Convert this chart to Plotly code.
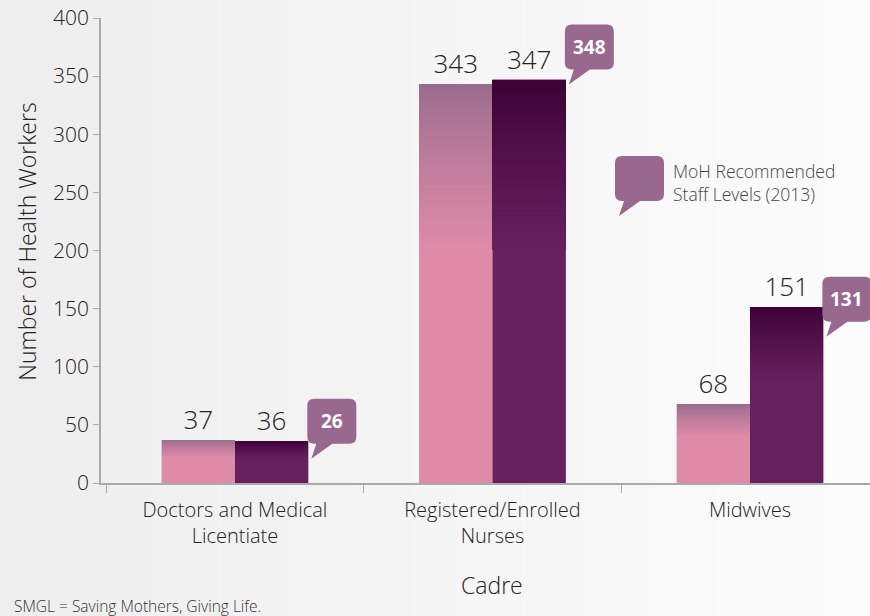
import plotly.graph_objects as go

# ---- data ----
categories = ["Doctors and Medical<br>Licentiate", "Registered/Enrolled<br>Nurses", "Midwives"]
first_counts = [37, 343, 68]
second_counts = [36, 347, 151]
recommended = [26, 348, 131]

# ---- style ----
FONT = "Open Sans"
PINK, PINK_TOP = "#df8ba8", "#976b8c"
PLUM, PLUM_TOP = "#66205e", "#3b0034"
BUBBLE = "#98688f"
BAR_W = 0.285          # width of one bar in category units
GRAD_FRAC = 0.42       # share of each bar (from its top) that carries the shading
N_SLICES = 40

W, H = 870, 616
M_L, M_R, M_T, M_B = 101, 0, 18, 133
X_RANGE = [-0.52, 2.466]
Y_RANGE = [0, 400]
PLOT_W, PLOT_H = W - M_L - M_R, H - M_T - M_B


def snap_x(x):
    """Move an x value onto the whole-pixel edge used when bars are drawn."""
    k = PLOT_W / (X_RANGE[1] - X_RANGE[0])
    return round((x - X_RANGE[0]) * k) / k + X_RANGE[0]


def snap_y(y):
    k = PLOT_H / (Y_RANGE[1] - Y_RANGE[0])
    return Y_RANGE[1] - round((Y_RANGE[1] - y) * k) / k


def hex_to_rgb(h):
    h = h.lstrip("#")
    return tuple(int(h[i:i + 2], 16) for i in (0, 2, 4))


def mix(c1, c2, t):
    a, b = hex_to_rgb(c1), hex_to_rgb(c2)
    return "rgb(%d,%d,%d)" % tuple(round(a[k] + (b[k] - a[k]) * t) for k in range(3))


fig = go.Figure()
fig.add_trace(go.Bar(
    x=categories, y=first_counts, name="First count", marker_color=PINK,
    marker_line_width=0, texttemplate="%{y}", textposition="outside",
    textfont=dict(family=FONT, size=26, color="#222222", weight=300),
    cliponaxis=False, showlegend=False))
fig.add_trace(go.Bar(
    x=categories, y=second_counts, name="Second count", marker_color=PLUM,
    marker_line_width=0, texttemplate="%{y}", textposition="outside",
    textfont=dict(family=FONT, size=26, color="#222222", weight=300),
    cliponaxis=False, showlegend=False))

shapes = []

# soft horizontal background wash
N_BG = 40
x_lo, x_hi = -M_L / PLOT_W, 1.0
for k in range(N_BG):
    xa = x_lo + (x_hi - x_lo) * k / N_BG
    xb = x_lo + (x_hi - x_lo) * (k + 1) / N_BG + 0.002
    shapes.append(dict(type="rect", xref="paper", yref="paper", x0=xa, x1=xb,
                       y0=-0.3, y1=1.05, layer="below", line_width=0,
                       fillcolor=mix("#eeeeee", "#fcfcfc", k / (N_BG - 1))))

# vertical shading at the top of each bar: thin bands drawn top to bottom,
# each reaching one band lower so the next band hides its lower edge
for series, top_c, base_c, offset in ((first_counts, PINK_TOP, PINK, -BAR_W),
                                      (second_counts, PLUM_TOP, PLUM, 0.0)):
    for i, v in enumerate(series):
        x0, x1 = snap_x(i + offset), snap_x(i + offset + BAR_W)
        top_v = snap_y(v)
        span = v * GRAD_FRAC
        step = span / N_SLICES
        for k in range(N_SLICES):
            ya = top_v - step * k
            yb = max(top_v - step * (k + 2), top_v - span)
            t = (k + 0.5) / N_SLICES
            shapes.append(dict(type="rect", xref="x", yref="y", x0=x0, x1=x1,
                               y0=yb, y1=ya, line_width=0, layer="above",
                               fillcolor=mix(top_c, base_c, t ** 0.8)))

# speech-bubble outline in pixels, relative to its anchor point
L, R, B, T, r = -1, 48, 9, 54, 7
bubble_path = (f"M {L + r} {T} H {R - r} Q {R} {T} {R} {T - r} V {B + r} "
               f"Q {R} {B} {R - r} {B} H 24 L 3 -6 L 8 {B} H {L + r} "
               f"Q {L} {B} {L} {B + r} V {T - r} Q {L} {T} {L + r} {T} Z")

annotations = []
for i, v in enumerate(recommended):
    ax = i + BAR_W
    shapes.append(dict(type="path", xref="x", yref="y", xsizemode="pixel",
                       ysizemode="pixel", xanchor=ax, yanchor=v, path=bubble_path,
                       fillcolor=BUBBLE, line_width=0, layer="above"))
    annotations.append(dict(xref="x", yref="y", x=ax, y=v, xshift=(L + R) / 2,
                            yshift=(B + T) / 2, text=f"<b>{v}</b>", showarrow=False,
                            font=dict(family=FONT, size=19, color="#ffffff")))

# key bubble
shapes.append(dict(type="path", xref="paper", yref="paper", xsizemode="pixel",
                   ysizemode="pixel", xanchor=0.6697, yanchor=0.587, path=bubble_path,
                   fillcolor=BUBBLE, line_width=0, layer="above"))
annotations.append(dict(xref="paper", yref="paper", x=0.741, y=0.646,
                        xanchor="left", yanchor="middle", align="left",
                        text="MoH Recommended<br>Staff Levels (2013)", showarrow=False,
                        font=dict(family=FONT, size=17.5, color="#444444", weight=300)))

# axis titles and footnote
annotations.append(dict(xref="x", yref="paper", x=1, y=-0.219, yanchor="middle",
                        text="Cadre", showarrow=False,
                        font=dict(family=FONT, size=23, color="#222222", weight=300)))
annotations.append(dict(xref="paper", yref="paper", x=-0.0962, y=0.519,
                        xanchor="center", yanchor="middle", textangle=-90,
                        text="Number of Health Workers", showarrow=False,
                        font=dict(family=FONT, size=23, color="#222222", weight=300)))
annotations.append(dict(xref="paper", yref="paper", x=-0.1157, y=-0.2645,
                        xanchor="left", yanchor="middle",
                        text="SMGL = Saving Mothers, Giving Life.", showarrow=False,
                        font=dict(family=FONT, size=15.5, color="#333333", weight=300)))

fig.update_layout(
    width=W, height=H,
    margin=dict(l=M_L, r=M_R, t=M_T, b=M_B),
    paper_bgcolor="#f4f4f4", plot_bgcolor="rgba(0,0,0,0)",
    barmode="group", bargap=0.43, bargroupgap=0,
    font=dict(family=FONT, color="#222222"),
    shapes=shapes, annotations=annotations,
)
fig.update_xaxes(
    type="category", range=X_RANGE, tickson="boundaries",
    ticks="outside", ticklen=8, tickcolor="#aaaaaa", showline=True,
    linecolor="#aaaaaa", linewidth=1.5, showgrid=False, zeroline=False,
    ticklabelstandoff=8,
    tickfont=dict(family=FONT, size=20, color="#222222", weight=300),
)
fig.update_yaxes(
    range=Y_RANGE, tickvals=list(range(0, 401, 50)), ticks="outside", ticklen=6,
    tickcolor="#aaaaaa", showline=True, linecolor="#aaaaaa", linewidth=1.5,
    showgrid=False, zeroline=False,
    tickfont=dict(family=FONT, size=21, color="#222222", weight=300),
)

fig.write_html("out.html")
